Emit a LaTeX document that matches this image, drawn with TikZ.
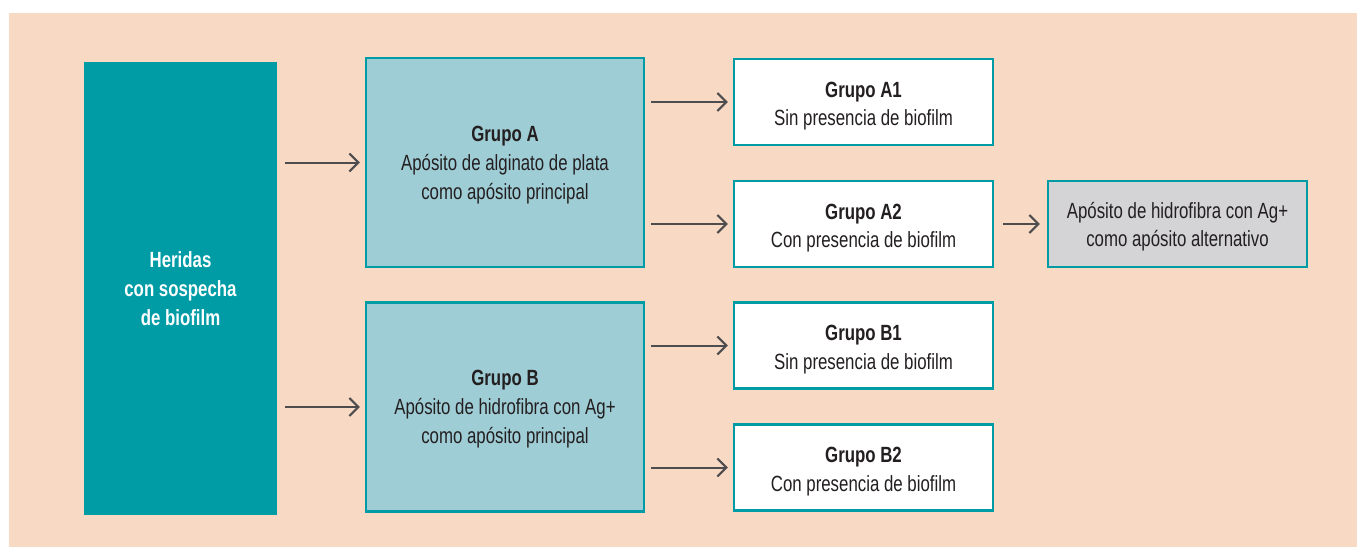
\documentclass[tikz,border=0pt]{standalone}
\usepackage{fontspec}
\setmainfont{Liberation Sans}[FakeStretch=0.765]
\usetikzlibrary{arrows.meta}
\definecolor{peach}{HTML}{F8D9C3}
\definecolor{tealmain}{HTML}{009CA6}
\definecolor{teallight}{HTML}{9FCDD6}
\definecolor{greybox}{HTML}{D4D4D6}
\definecolor{arrowgrey}{HTML}{4D4D4F}
\definecolor{txt}{HTML}{231F20}
\tikzset{
  basebox/.style={draw=tealmain, line width=2.4pt, inner sep=0pt},
  mainbox/.style={fill=tealmain, draw=none, inner sep=0pt, align=center, text=white,
    font=\fontsize{22}{29}\selectfont\bfseries, minimum width=193pt, minimum height=453pt},
  groupbox/.style={basebox, fill=teallight, minimum width=278pt, minimum height=209pt},
  subbox/.style={basebox, fill=white, minimum width=259pt, minimum height=86pt},
  altbox/.style={basebox, fill=greybox, minimum width=259pt, minimum height=86pt},
  grouptxt/.style={inner sep=0pt, align=center, text=txt, font=\fontsize{22}{29}\selectfont},
  subtxt/.style={inner sep=0pt, align=center, text=txt, font=\fontsize{22}{28.5}\selectfont},
  conn/.style={draw=arrowgrey, line width=2pt, -{Straight Barb[length=9pt,width=18pt]}}
}
\begin{document}
\begin{tikzpicture}[x=1pt,y=-1pt]
\useasboundingbox (0,0) rectangle (1357,547);
\fill[peach] (9,13) rectangle (1357,547);
\node[mainbox] (main) at (180.5,288.5) {Heridas\\con sospecha\\de biofilm};
\node[groupbox] (A) at (505,162.5) {};
\node[groupbox] (B) at (505,407) {};
\node[subbox] (A1) at (863.5,102) {};
\node[subbox] (A2) at (863.5,224) {};
\node[subbox] (B1) at (863.5,345.5) {};
\node[subbox] (B2) at (863.5,467.5) {};
\node[altbox] (alt) at (1177.5,224) {};
\node[grouptxt] (At) at ([yshift=-2.5pt]A.center) {\textbf{Grupo A}\\Apósito de alginato de plata\\como apósito principal};
\node[grouptxt] (Bt) at ([yshift=-2pt]B.center) {\textbf{Grupo B}\\Apósito de hidrofibra con Ag+\\como apósito principal};
\node[subtxt] (A1t) at ([yshift=-4pt]A1.center) {\textbf{Grupo A1}\\Sin presencia de biofilm};
\node[subtxt] (A2t) at ([yshift=-4pt]A2.center) {\textbf{Grupo A2}\\Con presencia de biofilm};
\node[subtxt] (B1t) at ([yshift=-4pt]B1.center) {\textbf{Grupo B1}\\Sin presencia de biofilm};
\node[subtxt] (B2t) at ([yshift=-4pt]B2.center) {\textbf{Grupo B2}\\Con presencia de biofilm};
\node[subtxt] (altt) at ([yshift=-2.5pt]alt.center) {Apósito de hidrofibra con Ag+\\como apósito alternativo};
\draw[conn, shorten <=8pt, shorten >=5pt] (main.east |- A) -- (A.west);
\draw[conn, shorten <=8pt, shorten >=5pt] (main.east |- B) -- (B.west);
\draw[conn, shorten <=6pt, shorten >=5pt] (A.east |- A1) -- (A1.west);
\draw[conn, shorten <=6pt, shorten >=5pt] (A.east |- A2) -- (A2.west);
\draw[conn, shorten <=6pt, shorten >=5pt] (B.east |- B1) -- (B1.west);
\draw[conn, shorten <=6pt, shorten >=5pt] (B.east |- B2) -- (B2.west);
\draw[conn, shorten <=9pt, shorten >=7pt] (A2.east) -- (alt.west);
\end{tikzpicture}
\end{document}
